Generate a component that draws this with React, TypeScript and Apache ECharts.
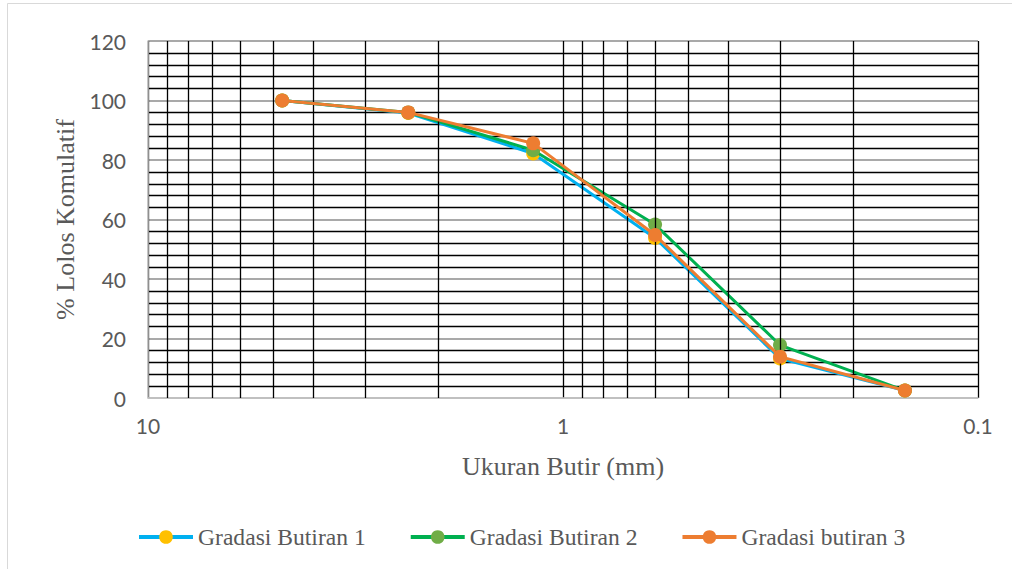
import React, { useEffect, useRef } from "react";
import * as echarts from "echarts";

const sieveSizes = [4.75, 2.36, 1.18, 0.6, 0.3, 0.15];
const gradasi1 = [100, 95.8, 82.2, 53.8, 13.3, 2.5];
const gradasi2 = [100, 96, 83.3, 58.3, 17.8, 2.5];
const gradasi3 = [100, 96, 85.6, 54.8, 13.9, 2.5];
const seriesNames = ["Gradasi Butiran 1", "Gradasi Butiran 2", "Gradasi butiran 3"];
const minorGridSizes = [9, 8, 7, 6, 5, 4, 3, 2, 0.9, 0.8, 0.7, 0.6, 0.5, 0.4, 0.3, 0.2];
const yTicks = { min: 0, max: 120, interval: 20 };
const xExtent = { min: 0.1, max: 10 };

const serif = "'Liberation Serif', 'Times New Roman', serif";
const sans = "Lato, 'Liberation Sans', sans-serif";
const textGray = "#595959";

function pairs(values: number[]) {
  return sieveSizes.map((s, i) => [s, values[i]]);
}

export default function App() {
  const ref = useRef<HTMLDivElement>(null);
  useEffect(() => {
    if (!ref.current) return;
    const chart = echarts.init(ref.current, undefined, { renderer: "svg" });
    const mk = (name: string, data: number[], line: string, marker: string, z: number) => ({
      name,
      type: "line",
      data: pairs(data),
      symbol: "circle",
      symbolSize: 14,
      z,
      lineStyle: { color: line, width: 3 },
      itemStyle: { color: marker, borderWidth: 0 },
    });
    chart.setOption({
      animation: false,
      backgroundColor: "#ffffff",
      grid: { left: 148, right: 34, top: 41, bottom: 171, containLabel: false },
      graphic: [
        {
          type: "rect",
          shape: { x: 7.5, y: 3.5, width: 1100, height: 700 },
          style: { fill: "none", stroke: "#d9d9d9", lineWidth: 1 },
          silent: true,
        },
      ],
      legend: {
        data: seriesNames,
        left: 137,
        top: 525,
        padding: 0,
        itemWidth: 54,
        itemHeight: 17,
        itemGap: 43,
        lineStyle: { width: 4 },
        textStyle: { fontFamily: serif, fontSize: 23.6, color: textGray },
      },
      xAxis: {
        type: "log",
        logBase: 10,
        min: xExtent.min,
        max: xExtent.max,
        inverse: true,
        name: "Ukuran Butir (mm)",
        nameLocation: "middle",
        nameGap: 55,
        nameTextStyle: { fontFamily: serif, fontSize: 26, color: textGray },
        axisLine: { show: true, onZero: false, lineStyle: { color: "#c8c8c8", width: 1.5 } },
        axisTick: { show: false },
        axisLabel: {
          margin: 17,
          fontFamily: sans,
          fontSize: 21,
          color: textGray,
          formatter: (v: number) => (v >= 1 ? String(Math.round(v)) : String(+v.toFixed(1))),
        },
        splitLine: { show: true, lineStyle: { color: "#000000", width: 1.3 } },
      },
      yAxis: {
        type: "value",
        min: yTicks.min,
        max: yTicks.max,
        interval: yTicks.interval,
        name: "% Lolos Komulatif",
        nameLocation: "middle",
        nameGap: 69,
        nameTextStyle: { fontFamily: serif, fontSize: 26, color: textGray },
        axisLine: { show: true, lineStyle: { color: "#bfbfbf", width: 1.5 } },
        axisTick: { show: false },
        axisLabel: { margin: 22, fontFamily: sans, fontSize: 21, color: textGray },
        minorTick: { show: false, splitNumber: 5 },
        minorSplitLine: { show: true, lineStyle: { color: "#000000", width: 1.3 } },
        splitLine: { show: true, lineStyle: { color: "#8c8c8c", width: 1.6 } },
      },
      series: [
        {
          name: "grid-minor",
          type: "line",
          data: [],
          silent: true,
          z: 1,
          markLine: {
            silent: true,
            symbol: ["none", "none"],
            label: { show: false },
            lineStyle: { color: "#000000", width: 1.3, type: "solid" },
            data: minorGridSizes.map((v) => ({ xAxis: v })),
          },
        },
        mk(seriesNames[0], gradasi1, "#00B0F0", "#FFC000", 3),
        mk(seriesNames[1], gradasi2, "#00B050", "#70AD47", 4),
        mk(seriesNames[2], gradasi3, "#ED7D31", "#ED7D31", 5),
      ],
    });
    return () => chart.dispose();
  }, []);
  return (
    <div
      ref={ref}
      style={{ position: "fixed", left: 0, top: 0, width: 1012, height: 569, background: "#fff" }}
    />
  );
}
